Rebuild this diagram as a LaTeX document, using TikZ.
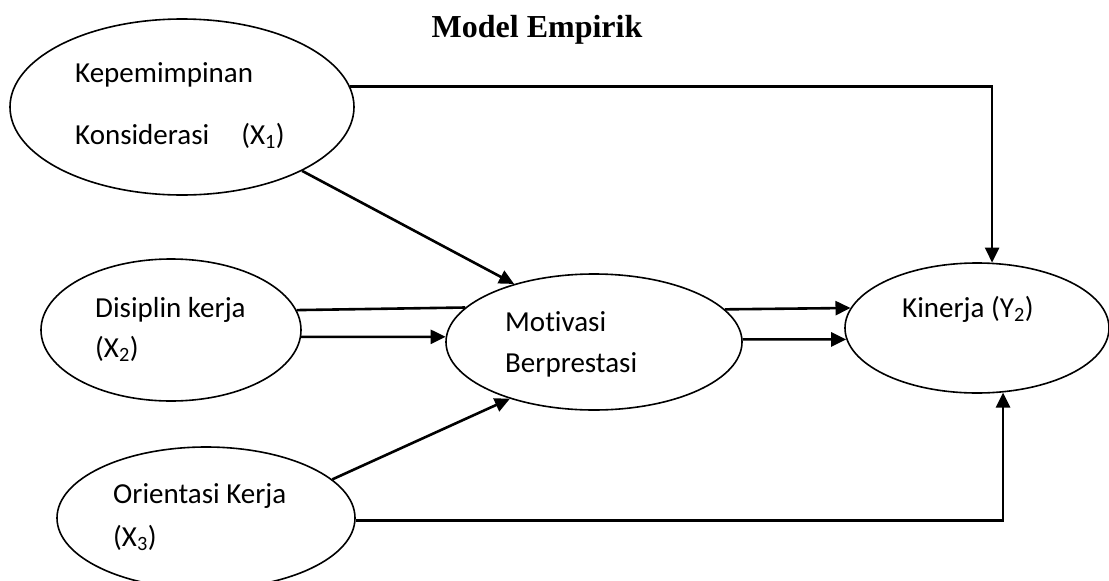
\documentclass[tikz,border=0pt]{standalone}
\usepackage{fontspec}
\setmainfont[Ligatures=NoCommon]{Carlito}
\newfontfamily\titlefont{Liberation Serif}
\usetikzlibrary{
    arrows.meta,
    shapes.geometric,
}
\tikzset{
    latent/.style={draw, ellipse, line width=1.6pt, inner sep=0pt},
    lbl/.style={anchor=base west, inner sep=0pt, font=\fontsize{29}{34}\selectfont},
    link/.style={line width=2.6pt, -{Triangle[length=15pt,width=14pt]}},
}

\begin{document}
\begin{tikzpicture}[x=1pt, y=-1pt]
        \useasboundingbox (0,0) rectangle (1109,581);
        \node[anchor=base, inner sep=0pt, font=\titlefont\bfseries\fontsize{32}{38}\selectfont] (T) at (537,37) {Model Empirik};

        \node[latent, minimum width=344pt, minimum height=176pt] (X1) at (182,107) {};
        \node[lbl] (X1a) at (75,82) {Kepemimpinan};
        \node[lbl] (X1b) at (75,144) {Konsiderasi\hspace{32pt}(X\textsubscript{1})};

        \node[latent, minimum width=260pt, minimum height=142pt] (X2) at (171,330) {};
        \node[lbl] (X2a) at (95,317) {Disiplin kerja};
        \node[lbl] (X2b) at (95,357) {(X\textsubscript{2})};

        \node[latent, minimum width=296pt, minimum height=136pt] (M) at (594,342) {};
        \node[lbl] (Ma) at (505,331) {Motivasi};
        \node[lbl] (Mb) at (505,372) {Berprestasi};

        \node[latent, minimum width=264pt, minimum height=130pt] (Y2) at (977,328) {};
        \node[lbl] (Y2a) at (902,317) {Kinerja (Y\textsubscript{2})};

        \node[latent, minimum width=298pt, minimum height=142pt] (X3) at (206,518) {};
        \node[lbl] (X3a) at (113,503) {Orientasi Kerja};
        \node[lbl] (X3b) at (113,546) {(X\textsubscript{3})};

        \draw[link] (X1.7.5) -| (Y2.77); % top route
        \draw[link] (X1.-28) -- (M.144);
        \draw[line width=2.6pt] (X2.9.6) -- (M.165.6); % no head
        \draw[link] (X2.-3.5) -- (M.178.5);
        \draw[link] (M.14.4) -- (Y2.171.5);
        \draw[link] (M.1.2) -- (Y2.-175.2);
        \draw[link] (X3.17.9) -- (M.-146.4);
        \draw[link] (X3.-1) -| (Y2.-68); % bottom route
    \end{tikzpicture}
\end{document}
